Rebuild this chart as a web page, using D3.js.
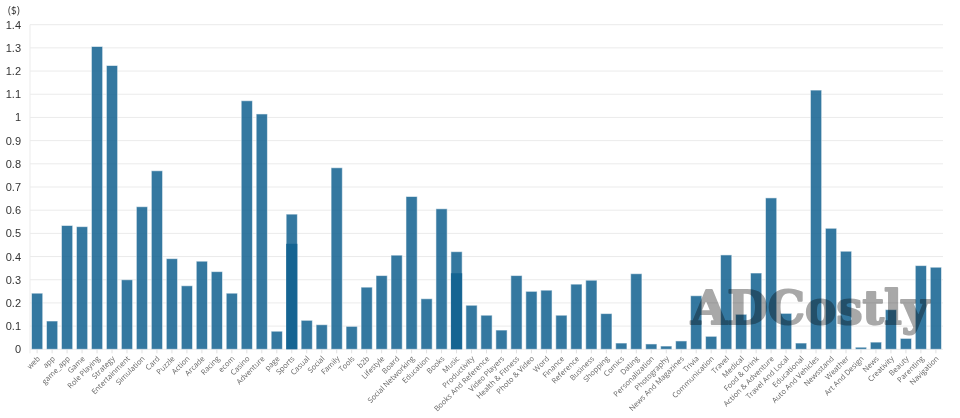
<!DOCTYPE html>
<html><head><meta charset="utf-8">
<script src="https://cdn.jsdelivr.net/npm/d3@7"></script>
<style>
body{margin:0;background:#fff;}
svg{display:block;font-family:"Open Sans","Noto Sans",sans-serif;}
</style></head>
<body><svg id="chart" width="960" height="418"></svg>
<script>
const categories = ["web","app","game_app","Game","Role Playing","Strategy","Entertainment","Simulation","Card","Puzzle","Action","Arcade","Racing","ecom","Casino","Adventure","page","Sports","Casual","Social","Family","Tools","b2b","Lifestyle","Board","Social Networking","Education","Books","Music","Productivity","Books And Reference","Video Players","Health & Fitness","Photo & Video","Word","Finance","Reference","Business","Shopping","Comics","Dating","Personalization","Photography","News And Magazines","Trivia","Communication","Travel","Medical","Food & Drink","Action & Adventure","Travel And Local","Educational","Auto And Vehicles","Newsstand","Weather","Art And Design","News","Creativity","Beauty","Parenting","Navigation"];
const values = [0.242,0.122,0.534,0.529,1.306,1.224,0.300,0.615,0.770,0.391,0.274,0.380,0.335,0.242,1.072,1.015,0.078,0.583,0.125,0.106,0.783,0.099,0.268,0.318,0.406,0.659,0.218,0.606,0.421,0.190,0.147,0.083,0.318,0.250,0.255,0.147,0.281,0.298,0.154,0.027,0.326,0.023,0.014,0.036,0.231,0.056,0.407,0.151,0.329,0.653,0.155,0.027,1.118,0.522,0.423,0.009,0.031,0.171,0.047,0.361,0.354];
// duplicate categories drawn over the same band
const overlayCategories = ["Sports","Music"];
const overlayValues = [0.455,0.328];
const yTicks = [0,0.1,0.2,0.3,0.4,0.5,0.6,0.7,0.8,0.9,1,1.1,1.2,1.3,1.4];
const unitLabel = "($)";
const watermark = "ADCostly";

const svg = d3.select("#chart");
const mLeft = 30, mRight = 943, mTop = 24.7, mBottom = 349.3;

const x = d3.scaleBand().domain(categories).range([mLeft, mRight]).paddingInner(0.25).paddingOuter(0.1);
const y = d3.scaleLinear().domain([0, 1.4]).range([mBottom, mTop]);

// gridlines
svg.append("g").selectAll("line").data(yTicks).join("line")
  .attr("x1", mLeft).attr("x2", mRight)
  .attr("y1", d => y(d)).attr("y2", d => y(d))
  .attr("stroke", "#ebebeb").attr("stroke-width", 1);

// y axis line
svg.append("line").attr("x1", mLeft).attr("x2", mLeft).attr("y1", mTop).attr("y2", mBottom + 4)
  .attr("stroke", "#ebebeb");

// y axis
const yAxis = d3.axisLeft(y).tickValues(yTicks).tickSize(0).tickPadding(9).tickFormat(d => d3.format("~g")(d));
const gy = svg.append("g").attr("transform", `translate(${mLeft},0)`).call(yAxis);
gy.select(".domain").remove();
gy.selectAll("text").attr("fill", "#333").style("font-size", "11px");

svg.append("text").attr("x", 8).attr("y", 14).attr("fill", "#333").style("font-size", "10px").text(unitLabel);

// x ticks
svg.append("g").selectAll("line").data(categories).join("line")
  .attr("x1", d => x(d) + x.bandwidth() / 2).attr("x2", d => x(d) + x.bandwidth() / 2)
  .attr("y1", mBottom).attr("y2", mBottom + 4)
  .attr("stroke", "#e0e0e0");

// bars
const barFill = "#11608f";
svg.append("g").selectAll("rect").data(categories).join("rect")
  .attr("x", d => x(d)).attr("width", x.bandwidth())
  .attr("y", (d, i) => y(values[i])).attr("height", (d, i) => mBottom - y(values[i]))
  .attr("fill", barFill).attr("fill-opacity", 0.85)
  .attr("stroke", "#ffffff").attr("stroke-opacity", 0.55).attr("stroke-width", 1);
svg.append("g").selectAll("rect").data(overlayCategories).join("rect")
  .attr("x", d => x(d)).attr("width", x.bandwidth())
  .attr("y", (d, i) => y(overlayValues[i])).attr("height", (d, i) => mBottom - y(overlayValues[i]))
  .attr("fill", barFill).attr("fill-opacity", 0.85);

// x labels
svg.append("g").selectAll("text").data(categories).join("text")
  .attr("transform", d => `translate(${x(d) + x.bandwidth() / 2 + 1.5},${mBottom + 8}) rotate(-45)`)
  .attr("text-anchor", "end").attr("dy", "0.35em")
  .attr("fill", "#666").style("font-size", "7.5px")
  .text(d => d);

// watermark
svg.append("text").attr("x", 691).attr("y", 324)
  .attr("textLength", 238).attr("lengthAdjust", "spacingAndGlyphs")
  .style("font-family", "'DejaVu Serif',serif").style("font-weight", "bold").style("font-size", "46px")
  .attr("fill", "#a8a8a8").attr("stroke", "#a8a8a8").attr("stroke-width", 2).attr("stroke-linejoin", "round")
  .style("mix-blend-mode", "multiply")
  .text(watermark);
</script></body></html>
